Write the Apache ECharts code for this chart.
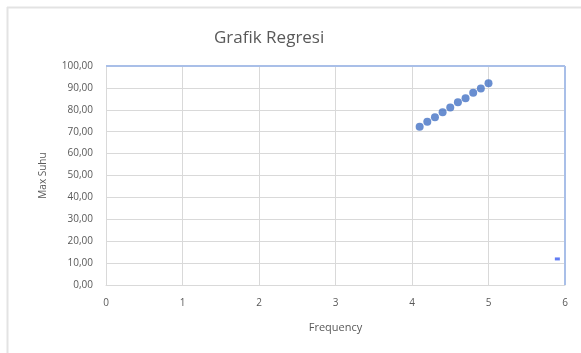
<!DOCTYPE html>
<html>
<head>
<meta charset="utf-8">
<script src="https://cdn.jsdelivr.net/npm/echarts@6/dist/echarts.min.js"></script>
<style>
  html, body { margin: 0; padding: 0; background: #fff; }
  #chart { width: 581px; height: 353px; }
</style>
</head>
<body>
<div id="chart"></div>
<script>
const frequency = [4.1, 4.2, 4.3, 4.4, 4.5, 4.6, 4.7, 4.8, 4.9, 5.0];
const maxSuhu = [72.3, 74.6, 76.6, 78.9, 81.0, 83.4, 85.3, 87.8, 89.7, 92.1];
const outlierX = [5.9];
const outlierY = [11.9];

const FONT = "'Open Sans', sans-serif";
const LABEL = "#595959";
const GRID_LINE = "#d9d9d9";

const chart = echarts.init(document.getElementById("chart"), null, { renderer: "canvas" });

function commaFmt(v) {
  return v.toFixed(2).replace(".", ",");
}

chart.setOption({
  backgroundColor: "#fff",
  animation: false,
  title: {
    text: "Grafik Regresi",
    left: 209,
    top: 25,
    textStyle: { color: LABEL, fontSize: 17, fontWeight: "normal", fontFamily: FONT }
  },
  grid: { left: 106, top: 66, width: 459, height: 219 },
  xAxis: {
    type: "value",
    min: 0,
    max: 6,
    interval: 1,
    name: "Frequency",
    nameLocation: "middle",
    nameGap: 37,
    nameTextStyle: { color: LABEL, fontSize: 11, fontFamily: FONT },
    axisLine: { show: true, onZero: false, lineStyle: { color: GRID_LINE } },
    axisTick: { show: false },
    axisLabel: { color: LABEL, fontSize: 10, margin: 13, fontFamily: FONT },
    splitLine: { show: true, lineStyle: { color: GRID_LINE } }
  },
  yAxis: {
    type: "value",
    min: 0,
    max: 100,
    interval: 10,
    name: "Max Suhu",
    nameLocation: "middle",
    nameGap: 58,
    nameTextStyle: { color: LABEL, fontSize: 10, fontFamily: FONT },
    axisLine: { show: true, lineStyle: { color: GRID_LINE } },
    axisTick: { show: false },
    axisLabel: { color: LABEL, fontSize: 10, margin: 13, fontFamily: FONT, formatter: commaFmt },
    splitLine: { show: true, lineStyle: { color: GRID_LINE } }
  },
  graphic: [
    // outer chart frame (left and top edges only are visible)
    { type: "line", shape: { x1: 7.5, y1: 7, x2: 7.5, y2: 353 }, style: { stroke: "#e3e3e3", lineWidth: 2 } },
    { type: "line", shape: { x1: 7, y1: 7.5, x2: 581, y2: 7.5 }, style: { stroke: "#e3e3e3", lineWidth: 2 } },
    // selected plot-area highlight on top and right
    { type: "line", z: 10, shape: { x1: 106, y1: 66, x2: 565, y2: 66 }, style: { stroke: "#a9bfe8", lineWidth: 2 } },
    { type: "line", z: 10, shape: { x1: 565, y1: 66, x2: 565, y2: 285 }, style: { stroke: "#a9bfe8", lineWidth: 2 } }
  ],
  series: [
    {
      type: "scatter",
      data: frequency.map((x, i) => [x, maxSuhu[i]]),
      symbol: "circle",
      symbolSize: 8,
      itemStyle: { color: "#4472c4" },
      z: 5
    },
    {
      type: "scatter",
      data: outlierX.map((x, i) => [x, outlierY[i]]),
      symbol: "rect",
      symbolSize: [5, 3],
      itemStyle: { color: "#3b5cf0" },
      z: 5
    }
  ]
});
</script>
</body>
</html>
